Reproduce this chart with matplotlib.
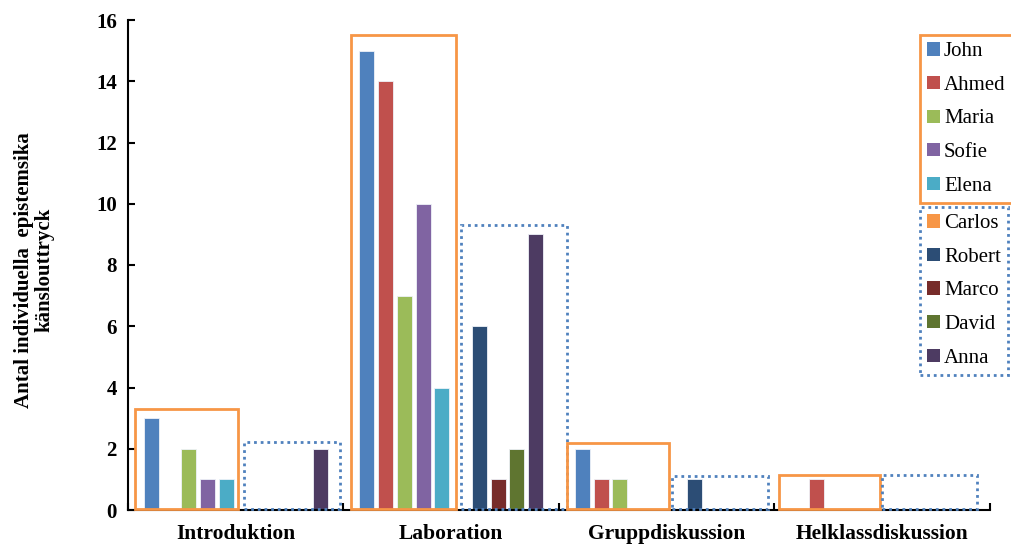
import matplotlib.pyplot as plt
import numpy as np
from matplotlib.patches import Patch, Rectangle

plt.rcParams["font.family"] = "Liberation Serif"

# Categories and the count for each student per category
categories = ["Introduktion", "Laboration", "Gruppdiskussion", "Helklassdiskussion"]
students = ["John", "Ahmed", "Maria", "Sofie", "Elena",
            "Carlos", "Robert", "Marco", "David", "Anna"]
john = [3, 15, 2, 0]
ahmed = [0, 14, 1, 1]
maria = [2, 7, 1, 0]
sofie = [1, 10, 0, 0]
elena = [1, 4, 0, 0]
carlos = [0, 0, 0, 0]
robert = [0, 6, 1, 0]
marco = [0, 1, 0, 0]
david = [0, 2, 0, 0]
anna = [2, 9, 0, 0]
yticks = [0, 2, 4, 6, 8, 10, 12, 14, 16]

series = [john, ahmed, maria, sofie, elena, carlos, robert, marco, david, anna]
colors = ["#4F81BD", "#C0504D", "#9BBB59", "#8064A2", "#4BACC6",
          "#F79646", "#2C4D75", "#772C2A", "#5F7530", "#4D3B62"]

ORANGE = "#F79646"
BLUE = "#4F81BD"
DOTS = (0, (1, 1.4))

fig = plt.figure(figsize=(10.12, 5.46), dpi=100)
ax = fig.add_axes([128 / 1012, 36 / 546, 862 / 1012, 490 / 546])

centers = np.arange(len(categories)) + 0.5
slot = 0.087
width = 0.07
for j, (vals, col) in enumerate(zip(series, colors)):
    ax.bar(centers + (j - 4.5) * slot, vals, width=width, color=col,
           edgecolor="#EEF2F8", linewidth=0.6, zorder=2)

# Hand-placed frames around the two halves of each category:
# (x0, x1 relative to the category start, top in data units)
orange_boxes = [(0.033, 0.51, 3.3), (0.033, 0.52, 15.5),
                (0.037, 0.51, 2.2), (0.019, 0.49, 1.15)]
blue_boxes = [(0.54, 0.985, 2.22), (0.545, 1.035, 9.3),
              (0.526, 0.97, 1.1), (0.50, 0.94, 1.15)]
for i in range(len(categories)):
    x0, x1, top = orange_boxes[i]
    ax.add_patch(Rectangle((i + x0, 0.02), x1 - x0, top - 0.02, fill=False,
                           edgecolor=ORANGE, linewidth=2, zorder=3, clip_on=False))
    x0, x1, top = blue_boxes[i]
    ax.add_patch(Rectangle((i + x0, 0.02), x1 - x0, top - 0.02, fill=False,
                           edgecolor=BLUE, linewidth=2, linestyle=DOTS,
                           zorder=3, clip_on=False))

ax.set_xlim(0, len(categories))
ax.set_ylim(0, 16)
ax.set_yticks(yticks)
ax.set_yticklabels([str(t) for t in yticks], fontsize=15, fontweight="bold")
ax.set_xticks(np.arange(len(categories) + 1))
ax.set_xticklabels([])
ax.set_xticks(centers, minor=True)
ax.set_xticklabels(categories, minor=True, fontsize=15.5, fontweight="bold")
ax.tick_params(axis="x", which="minor", length=0, pad=10)
ax.tick_params(axis="both", which="major", direction="in", length=5, width=1.5)
ax.tick_params(axis="y", pad=8)
for side in ["top", "right"]:
    ax.spines[side].set_visible(False)
for side in ["left", "bottom"]:
    ax.spines[side].set_linewidth(1.5)

fig.text(0.034, 0.505, "Antal individuella  epistemsika\nkänslouttryck",
         rotation=90, ha="center", va="center", fontsize=15,
         fontweight="bold", linespacing=1.05)

# Two stacked legends, one for each half of the class
handles = [Patch(facecolor=c, edgecolor="none") for c in colors]
leg_kw = dict(loc="upper left", bbox_transform=fig.transFigure, fontsize=15,
              handlelength=0.6, handleheight=0.6, handletextpad=0.2,
              labelspacing=0.7, borderpad=0.35, borderaxespad=0,
              fancybox=False, framealpha=1)
leg1 = fig.legend(handles[:5], students[:5], bbox_to_anchor=(920 / 1012, 1 - 35 / 546),
                  **leg_kw)
leg1.get_frame().set_edgecolor(ORANGE)
leg1.get_frame().set_linewidth(2)
leg2 = fig.legend(handles[5:], students[5:], bbox_to_anchor=(920 / 1012, 1 - 207 / 546),
                  **leg_kw)
leg2.get_frame().set_edgecolor(BLUE)
leg2.get_frame().set_linewidth(2)
leg2.get_frame().set_linestyle(DOTS)

fig.savefig("out.png", dpi=100)
